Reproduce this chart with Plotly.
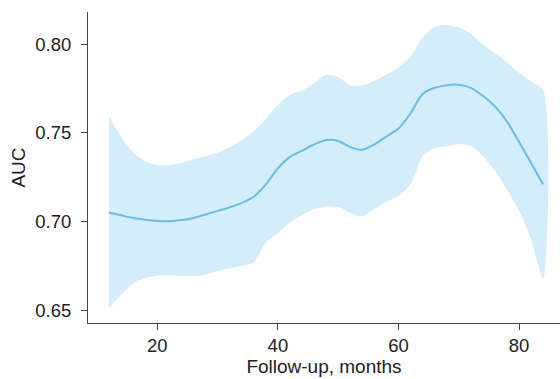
import plotly.graph_objects as go

months = [12, 14, 16, 18, 20, 22, 24, 26, 28, 30, 32, 34, 36, 38, 40, 42, 44, 46, 48, 50,
          52, 54, 56, 58, 60, 62, 64, 66, 68, 70, 72, 74, 76, 78, 80, 82, 84]
auc = [0.705, 0.7035, 0.702, 0.701, 0.7003, 0.7002, 0.7008, 0.702, 0.704, 0.706, 0.708,
       0.7105, 0.714, 0.721, 0.730, 0.7365, 0.740, 0.7435, 0.746, 0.7455, 0.742, 0.7405,
       0.7435, 0.748, 0.7525, 0.761, 0.772, 0.7755, 0.777, 0.7772, 0.7755, 0.771, 0.765,
       0.7565, 0.745, 0.733, 0.721]
upper = [0.759, 0.748, 0.739, 0.734, 0.7318, 0.7318, 0.733, 0.735, 0.737, 0.739, 0.742,
         0.746, 0.751, 0.758, 0.766, 0.7715, 0.774, 0.778, 0.7828, 0.7815, 0.777, 0.777,
         0.7795, 0.783, 0.787, 0.793, 0.804, 0.810, 0.811, 0.8095, 0.806, 0.800, 0.795,
         0.790, 0.784, 0.779, 0.774]
lower = [0.651, 0.6585, 0.665, 0.668, 0.6695, 0.6695, 0.6693, 0.6692, 0.670, 0.672, 0.6735,
         0.675, 0.677, 0.688, 0.6935, 0.6995, 0.7035, 0.707, 0.7085, 0.708, 0.705, 0.703,
         0.707, 0.711, 0.7145, 0.721, 0.737, 0.7415, 0.7425, 0.7438, 0.7425, 0.737, 0.7285,
         0.718, 0.706, 0.690, 0.668]
x_ticks = [20, 40, 60, 80]
y_ticks = [0.65, 0.70, 0.75, 0.80]
y_tick_labels = ["0.65", "0.70", "0.75", "0.80"]

fill_color = "rgb(211,237,251)"
line_color = "rgb(105,188,232)"

fig = go.Figure()
fig.add_trace(go.Scatter(x=months + months[::-1], y=upper + lower[::-1],
                         fill="toself", fillcolor=fill_color,
                         line=dict(width=0, shape="spline", smoothing=0.8),
                         mode="lines", hoverinfo="skip", showlegend=False))
fig.add_trace(go.Scatter(x=months, y=auc, mode="lines",
                         line=dict(color=line_color, width=2, shape="spline", smoothing=0.8),
                         showlegend=False))

font = dict(family="Liberation Sans, Arial, sans-serif", size=18.5, color="#222")
title_font = dict(family="Liberation Sans, Arial, sans-serif", size=19, color="#222")
fig.update_layout(
    width=560, height=379,
    margin=dict(l=88, r=0, t=12, b=56),
    plot_bgcolor="white", paper_bgcolor="white",
    font=font,
    xaxis=dict(range=[8.5, 86.8], tickvals=x_ticks, ticks="outside", ticklen=6,
               tickcolor="#444", showline=True, linecolor="#444", linewidth=1,
               showgrid=False, zeroline=False, automargin=False,
               title=dict(text="Follow-up, months", standoff=4, font=title_font)),
    yaxis=dict(range=[0.6427, 0.8183], tickvals=y_ticks, ticktext=y_tick_labels,
               ticks="outside", ticklen=6, tickcolor="#444", showline=True,
               linecolor="#444", linewidth=1, showgrid=False, zeroline=False,
               ticklabelstandoff=6, automargin=False,
               title=dict(text="AUC", standoff=4, font=title_font)),
)
fig.write_html("out.html", config={"displayModeBar": False})

with open("out.html", "r", encoding="utf-8") as f:
    html = f.read()
html = html.replace("<head>", "<head><style>html,body{margin:0;padding:0;overflow:hidden}</style>", 1)
with open("out.html", "w", encoding="utf-8") as f:
    f.write(html)
